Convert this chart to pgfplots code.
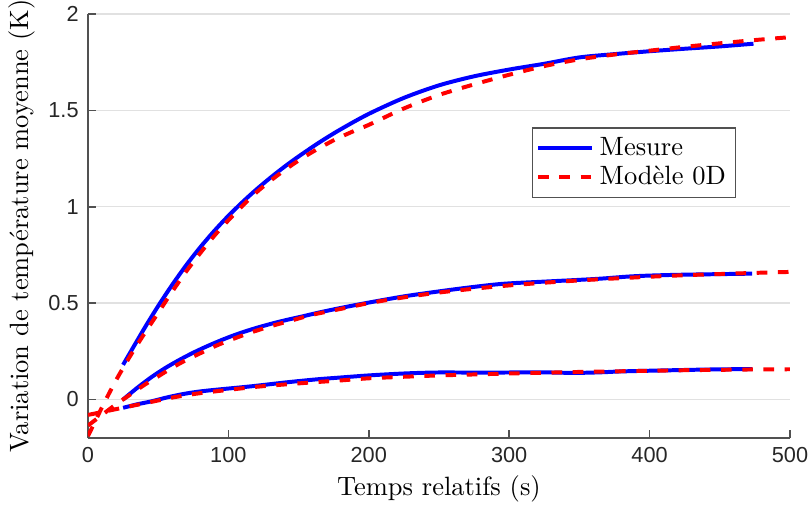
\documentclass[border=0pt]{standalone}
\usepackage{fontspec}
\usepackage{pgfplots}
\pgfplotsset{compat=1.18}
\newfontfamily\tickfont{Liberation Sans}
\definecolor{axgray}{RGB}{38,38,38}
\definecolor{gridgray}{RGB}{225,225,225}
\begin{document}
\begin{tikzpicture}
\path[use as bounding box] (-33.2pt,-27.2pt) rectangle (271.7pt,165.3pt);
\begin{axis}[
  name=ax,
  at={(0,0)}, anchor=south west,
  scale only axis,
  width=264.9pt, height=160pt,
  xmin=0, xmax=500, ymin=-0.2, ymax=2,
  axis x line*=bottom, axis y line*=left,
  axis line style={-, color=axgray!80, line width=0.6pt},
  xtick={0,100,200,300,400,500},
  ytick={0,0.5,1,1.5,2},
  tick align=inside,
  major tick length=3pt,
  tick style={color=axgray!80, line width=0.6pt},
  ymajorgrids,
  major grid style={color=gridgray, line width=0.5pt},
  /pgf/number format/assume math mode=true,
  tick label style={font=\tickfont\fontsize{8.2}{10}\selectfont, color=axgray},
  xlabel={Temps relatifs (s)},
  ylabel={Variation de température moyenne (K)},
  label style={color=black},
  xlabel style={yshift=2pt},
  ylabel style={yshift=-2pt},
  legend style={at={(0.923,0.733)}, anchor=north east, draw=axgray!80, line width=0.5pt,
    font=\normalsize, inner sep=1.5pt, row sep=-1.5pt, cells={anchor=west}},
  legend image code/.code={\draw[#1] (0cm,0cm) -- (0.72cm,0cm);},
  every axis plot/.append style={smooth, tension=0.5},
]
% Mesure (blue, solid)
\addplot[blue, line width=1.5pt] coordinates {
(25,0.18)(40,0.367)(50,0.485)(60,0.595)(70,0.697)(80,0.79)(90,0.875)(100,0.953)(110,1.024)(120,1.09)(130,1.151)(140,1.208)(150,1.261)(165,1.335)(180,1.402)(200,1.482)(225,1.565)(250,1.63)(275,1.677)(300,1.712)(325,1.742)(350,1.775)(375,1.792)(400,1.807)(425,1.82)(450,1.832)(474,1.846)
};
\addlegendentry{Mesure}
\addplot[red, line width=1.5pt, dash pattern=on 4pt off 4pt] coordinates {
(0,-0.19)(10,-0.04)(20,0.10)(30,0.225)(40,0.34)(50,0.45)(60,0.56)(70,0.665)(80,0.76)(90,0.85)(100,0.93)(110,1.005)(120,1.075)(130,1.135)(140,1.19)(150,1.24)(160,1.285)(175,1.345)(190,1.395)(200,1.425)(225,1.51)(250,1.58)(275,1.635)(300,1.685)(325,1.73)(350,1.765)(375,1.79)(400,1.81)(425,1.83)(450,1.848)(475,1.865)(500,1.88)
};
\addlegendentry{Modèle 0D}
\addplot[blue, line width=1.5pt, forget plot] coordinates {
(25,0.0)(35,0.06)(45,0.115)(55,0.163)(65,0.205)(75,0.243)(85,0.277)(95,0.308)(105,0.336)(117,0.365)(130,0.392)(141,0.412)(152,0.43)(165,0.452)(180,0.475)(200,0.503)(225,0.535)(247,0.558)(270,0.58)(295,0.60)(323,0.611)(345,0.619)(365,0.627)(385,0.638)(400,0.643)(420,0.647)(445,0.65)(473,0.653)
};
\addplot[red, line width=1.5pt, dash pattern=on 4pt off 4pt, forget plot] coordinates {
(0,-0.135)(10,-0.08)(20,-0.025)(30,0.025)(40,0.075)(50,0.12)(60,0.165)(70,0.205)(80,0.24)(90,0.275)(100,0.305)(115,0.345)(130,0.38)(145,0.41)(160,0.44)(180,0.47)(200,0.50)(225,0.53)(250,0.555)(275,0.575)(300,0.592)(325,0.606)(350,0.618)(375,0.628)(400,0.637)(425,0.645)(450,0.651)(475,0.657)(500,0.662)
};
\addplot[blue, line width=1.5pt, forget plot] coordinates {
(25,-0.043)(35,-0.025)(45.5,-0.009)(57,0.012)(69,0.03)(80,0.042)(93,0.052)(117,0.069)(140,0.088)(152,0.097)(165,0.106)(176,0.112)(200,0.125)(225,0.135)(247,0.14)(270,0.14)(295,0.14)(323,0.141)(346,0.138)(365,0.141)(381,0.146)(417,0.152)(445,0.156)(473,0.158)
};
\addplot[red, line width=1.5pt, dash pattern=on 4pt off 4pt, forget plot] coordinates {
(0,-0.08)(10,-0.065)(20,-0.05)(30,-0.035)(40,-0.02)(50,-0.005)(60,0.01)(70,0.022)(80,0.033)(100,0.05)(120,0.066)(140,0.078)(160,0.089)(180,0.099)(200,0.11)(225,0.118)(250,0.125)(275,0.13)(300,0.135)(325,0.139)(350,0.143)(375,0.146)(400,0.149)(425,0.152)(450,0.154)(475,0.156)(500,0.157)
};
\end{axis}
\end{tikzpicture}
\end{document}
